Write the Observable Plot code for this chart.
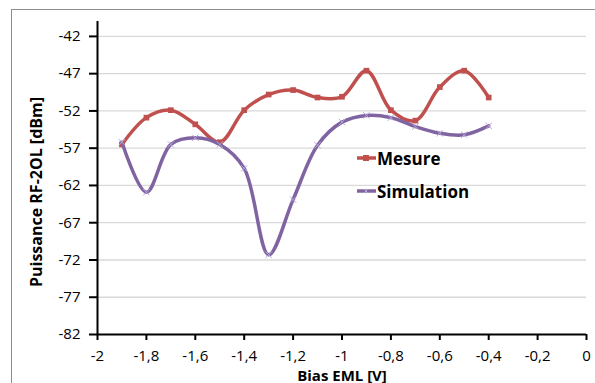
<!DOCTYPE html>
<html><head><meta charset="utf-8">
<script src="https://cdn.jsdelivr.net/npm/d3@7"></script>
<script src="https://cdn.jsdelivr.net/npm/@observablehq/plot@0.6"></script>
<style>
body{margin:0;background:#fff;}
#wrap{position:relative;width:595px;height:383px;overflow:hidden;font-family:"Open Sans",sans-serif;background:#fff;}
#border{position:absolute;left:11px;top:9px;width:700px;height:500px;border:1px solid #8c8c8c;box-sizing:border-box;}
#chart{position:absolute;left:0;top:0;}
#legend{position:absolute;left:357px;top:146px;font-weight:bold;font-size:17px;color:#000;}
.item{display:flex;align-items:center;height:24px;position:absolute;left:0;white-space:nowrap;}
.item svg{margin-right:1px;}
</style></head><body>
<div id="wrap"><div id="border"></div><div id="chart"></div><div id="legend"></div></div>
<script>
const bias = [-1.9,-1.8,-1.7,-1.6,-1.5,-1.4,-1.3,-1.2,-1.1,-1.0,-0.9,-0.8,-0.7,-0.6,-0.5,-0.4];
const mesure = [-56.5,-52.9,-51.9,-53.8,-56.2,-51.9,-49.8,-49.2,-50.2,-50.1,-46.6,-51.9,-53.3,-48.8,-46.6,-50.2];
const simulation = [-56.2,-62.9,-56.5,-55.6,-56.5,-59.7,-71.3,-63.9,-56.6,-53.5,-52.6,-52.9,-54.1,-55.0,-55.2,-54.0];
const seriesNames = ["Mesure","Simulation"];
const seriesColors = ["#C0504D","#8064A2"];
const xTicks = [-2,-1.8,-1.6,-1.4,-1.2,-1,-0.8,-0.6,-0.4,-0.2,0];
const yTicks = [-82,-77,-72,-67,-62,-57,-52,-47,-42];
const xDomain = [-2,0];
const yDomain = [-82,-40];
const xTitle = "Bias EML [V]";
const yTitle = "Puissance RF-2OL [dBm]";

const rowsMes = bias.map((b,i)=>({x:b,y:mesure[i],s:seriesNames[0]}));
const rowsSim = bias.map((b,i)=>({x:b,y:simulation[i],s:seriesNames[1]}));

const fmt = d => String(Math.round(d*10)/10).replace(".",",");

const chart = Plot.plot({
  width:595, height:383,
  marginLeft:97, marginRight:9, marginTop:21, marginBottom:49,
  style:{fontFamily:"'Open Sans',sans-serif", fontSize:"15px", color:"#000", background:"transparent"},
  x:{domain:xDomain},
  y:{domain:yDomain},
  marks:[
    Plot.gridY(yTicks.slice(1), {stroke:"#d9d9d9", strokeOpacity:1, strokeWidth:1.3}),
    Plot.axisY(yTicks, {tickSize:8, tickPadding:9, tickFormat:d=>String(d), fontSize:15, strokeWidth:2,
      label:yTitle, labelAnchor:"center", labelArrow:"none", labelOffset:67}),
    Plot.axisX(xTicks, {tickSize:6, tickPadding:10, tickFormat:fmt, fontSize:15, strokeWidth:2,
      label:xTitle, labelAnchor:"center", labelArrow:"none", labelOffset:46}),
    Plot.ruleX([xDomain[0]], {stroke:"#000", strokeWidth:2}),
    Plot.ruleY([yDomain[0]], {stroke:"#000", strokeWidth:2}),
    Plot.line(rowsMes, {x:"x", y:"y", stroke:seriesColors[0], strokeWidth:3.5, curve:"catmull-rom"}),
    Plot.dot(rowsMes, {x:"x", y:"y", symbol:"square", r:3.2, fill:"#C0504D", stroke:"none"}),
    Plot.line(rowsSim, {x:"x", y:"y", stroke:seriesColors[1], strokeWidth:3.5, curve:"catmull-rom"}),
    Plot.dot(rowsSim, {x:"x", y:"y", symbol:"times", r:3, stroke:"#b4a7d6", strokeWidth:1})
  ]
});
chart.querySelectorAll("g[aria-label='x-axis label'] text").forEach(t=>{
  t.setAttribute("font-weight","bold"); t.setAttribute("font-size","15");
});
chart.querySelectorAll("g[aria-label='y-axis label'] text").forEach(t=>{
  t.setAttribute("font-weight","bold"); t.setAttribute("font-size","16");
  t.setAttribute("dx","-14");
});
document.getElementById("chart").appendChild(chart);

const leg = document.getElementById("legend");
const tops = [0, 33];
seriesNames.forEach((n,i)=>{
  const d = document.createElement("div");
  d.className="item"; d.style.top = tops[i]+"px";
  const marker = i===0 ? `<rect x="6" y="9" width="6" height="6" fill="${seriesColors[0]}"/>` :
    `<path d="M7,10 L11,14 M11,10 L7,14" stroke="#b4a7d6" stroke-width="1"/>`;
  d.innerHTML = `<svg width="19" height="24"><line x1="0" x2="19" y1="12" y2="12" stroke="${seriesColors[i]}" stroke-width="3.5"/>${marker}</svg><span>${n}</span>`;
  leg.appendChild(d);
});
</script>
</body></html>
